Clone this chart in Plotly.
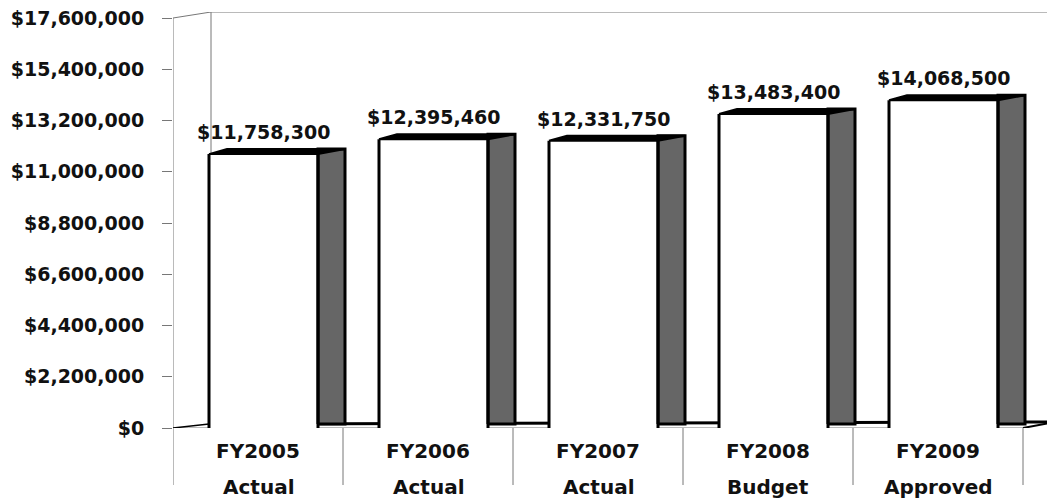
import plotly.graph_objects as go

# ---- data ----
fiscal_years = ["FY2005", "FY2006", "FY2007", "FY2008", "FY2009"]
budget_types = ["Actual", "Actual", "Actual", "Budget", "Approved"]
amounts = [11758300, 12395460, 12331750, 13483400, 14068500]
ytick_values = [0, 2200000, 4400000, 6600000, 8800000, 11000000, 13200000, 15400000, 17600000]

# ---- geometry (pixel-based helpers); page body has an 8px default margin ----
BODY = 8
W, H = 1055 - BODY, 502 - BODY
ML, MR, MT, MB = 173 - BODY, 0, 12 - BODY, 74
PLOT_W = W - ML - MR
PLOT_H = H - MT - MB
CAT_PX = 170.0
Y_MAX = ytick_values[-1]
PX_Y = Y_MAX / 410.0          # value per pixel
X_MAX = PLOT_W / CAT_PX
Y_TOP = Y_MAX * PLOT_H / 410.0


def px_x(p):
    return p / CAT_PX


def px_y(p):
    return p * PX_Y


FONT = "DejaVu Sans"
off_l = px_x(36)
off_r = px_x(145)
off_s = px_x(172)
depth_y = px_y(5)
depth_x_top = px_x(18)
floor_back = px_y(4)

fig = go.Figure()

shapes = []
gray = "#777777"
# y axis line
shapes.append(dict(type="line", xref="x", yref="y", x0=0, x1=0, y0=0, y1=Y_MAX,
                   line=dict(color=gray, width=1), layer="below"))
# top slant and back top edge
shapes.append(dict(type="line", xref="x", yref="y", x0=0, x1=px_x(38), y0=Y_MAX, y1=Y_TOP,
                   line=dict(color=gray, width=1), layer="below"))
shapes.append(dict(type="line", xref="x", yref="y", x0=px_x(38), x1=X_MAX, y0=Y_TOP, y1=Y_TOP,
                   line=dict(color=gray, width=1), layer="below"))
# back wall left vertical
shapes.append(dict(type="line", xref="x", yref="y", x0=px_x(38), x1=px_x(38), y0=floor_back, y1=Y_TOP,
                   line=dict(color=gray, width=1), layer="below"))
# floor front edge
shapes.append(dict(type="line", xref="x", yref="y", x0=0, x1=len(fiscal_years), y0=0, y1=0,
                   line=dict(color=gray, width=1), layer="below"))
# floor left slant
shapes.append(dict(type="line", xref="x", yref="y", x0=0, x1=px_x(36), y0=0, y1=floor_back,
                   line=dict(color="black", width=1.5), layer="below"))
# floor right slant
shapes.append(dict(type="line", xref="x", yref="y", x0=len(fiscal_years), x1=X_MAX, y0=0, y1=px_y(6),
                   line=dict(color="black", width=2), layer="below"))
# floor back edge (thick)
shapes.append(dict(type="line", xref="x", yref="y", x0=px_x(36), x1=X_MAX,
                   y0=floor_back, y1=px_y(6),
                   line=dict(color="black", width=3), layer="below"))
# category dividers
for i in range(len(fiscal_years) + 1):
    shapes.append(dict(type="line", xref="x", yref="paper", x0=i, x1=i, y0=0, y1=-57.0 / PLOT_H,
                       line=dict(color=gray, width=1), layer="below"))

# bars
for i, v in enumerate(amounts):
    xl = i + off_l
    xr = i + off_r
    xs = i + off_s
    fig.add_trace(go.Bar(x=[(xl + xr) / 2], y=[v], width=[xr - xl],
                         marker=dict(color="white", line=dict(width=0)),
                         hoverinfo="skip", showlegend=False))
    fig.add_trace(go.Scatter(x=[xr, xr, xs, xs, xr], y=[floor_back, v + depth_y, v + depth_y, floor_back, floor_back],
                             fill="toself", fillcolor="#666666", mode="lines",
                             line=dict(color="black", width=3),
                             hoverinfo="skip", showlegend=False))
    fig.add_trace(go.Scatter(x=[xl, xl + depth_x_top, xs, xr, xl], y=[v, v + depth_y, v + depth_y, v, v],
                             fill="toself", fillcolor="black", mode="lines",
                             line=dict(color="black", width=2),
                             hoverinfo="skip", showlegend=False))
    fig.add_trace(go.Scatter(x=[xl, xl, None, xr, xr], y=[0, v, None, 0, v], mode="lines",
                             line=dict(color="black", width=3),
                             hoverinfo="skip", showlegend=False))

annotations = []
for i, v in enumerate(amounts):
    annotations.append(dict(x=i + (off_l + off_r) / 2, y=v, xref="x", yref="y",
                            text=f"${v:,}", showarrow=False, yanchor="bottom", yshift=9,
                            font=dict(family=FONT, size=19, color="#111111", weight="bold")))
    annotations.append(dict(x=i + 0.5, y=0, xref="x", yref="paper", text=fiscal_years[i],
                            showarrow=False, yanchor="middle", yshift=-23,
                            font=dict(family=FONT, size=20, color="#111111", weight="bold")))
    annotations.append(dict(x=i + 0.5, y=0, xref="x", yref="paper", text=budget_types[i],
                            showarrow=False, yanchor="middle", yshift=-59,
                            font=dict(family=FONT, size=20, color="#111111", weight="bold")))

fig.update_layout(
    width=W, height=H, autosize=False,
    margin=dict(l=ML, r=MR, t=MT, b=MB, pad=0),
    paper_bgcolor="white", plot_bgcolor="white",
    barmode="overlay", showlegend=False,
    shapes=shapes, annotations=annotations,
    xaxis=dict(range=[0, X_MAX], visible=False, fixedrange=True),
    yaxis=dict(range=[0, Y_TOP], tickvals=ytick_values,
               ticktext=[f"${t:,}" for t in ytick_values],
               ticks="outside", ticklen=10, tickcolor=gray, tickwidth=1,
               showgrid=False, zeroline=False, showline=False,
               ticklabelstandoff=14, ticklabeloverflow="allow",
               tickfont=dict(family=FONT, size=19, color="#111111", weight="bold")),
)

fig.write_html("out.html")
